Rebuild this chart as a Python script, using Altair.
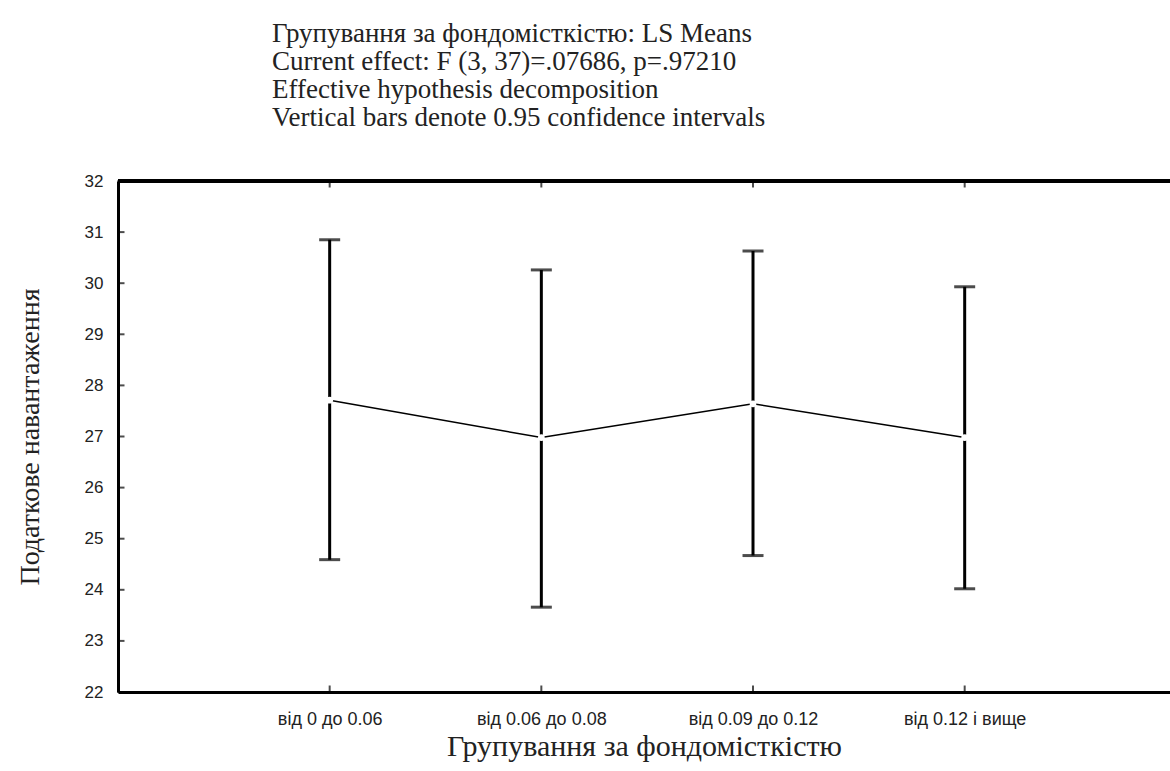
import json

import altair as alt
import pandas as pd

# LS means of tax burden by capital-intensity group, with 0.95 confidence limits
groups = ["від 0 до 0.06", "від 0.06 до 0.08", "від 0.09 до 0.12", "від 0.12 і вище"]
group_pos = [1, 2, 3, 4]
means = [27.71, 26.98, 27.64, 26.98]
lower = [24.59, 23.66, 24.67, 24.02]
upper = [30.85, 30.26, 30.63, 29.93]
y_ticks = list(range(22, 33))

title_lines = [
    "Групування за фондомісткістю: LS Means",
    "Current effect: F (3, 37)=.07686, p=.97210",
    "Effective hypothesis decomposition",
    "Vertical bars denote 0.95 confidence intervals",
]
x_title = "Групування за фондомісткістю"
y_title = "Податкове навантаження"

W, H = 1052, 511
X_MAX = 4.97
SERIF = "Liberation Serif"
SANS = "Liberation Sans"

df = pd.DataFrame({"pos": group_pos, "group": groups, "mean": means, "lo": lower, "hi": upper})
yt = pd.DataFrame({"v": y_ticks})

label_expr = json.dumps(groups, ensure_ascii=False) + "[datum.value - 1]"

x_scale = alt.Scale(domain=[0, X_MAX], nice=False, zero=False)
y_scale = alt.Scale(domain=[22, 32], nice=False, zero=False)

x_enc = alt.X(
    "pos:Q",
    scale=x_scale,
    axis=alt.Axis(
        values=group_pos,
        labelExpr=label_expr,
        title=x_title,
        ticks=False,
        grid=False,
        domainColor="black",
        domainWidth=3,
        labelFont=SANS,
        labelFontSize=18,
        labelColor="#222",
        labelPadding=18,
        titleFont=SERIF,
        titleFontSize=30,
        titleFontWeight="normal",
        titleColor="#222",
        titlePadding=3,
    ),
)
y_axis = alt.Axis(
    values=y_ticks,
    title=y_title,
    ticks=False,
    grid=False,
    domainColor="black",
    domainWidth=3,
    labelFont=SANS,
    labelFontSize=17,
    labelColor="#222",
    labelPadding=15,
    titleFont=SERIF,
    titleFontSize=28,
    titleFontWeight="normal",
    titleColor="#222",
    titlePadding=40,
)

base = alt.Chart(df)

line = base.mark_line(color="black", strokeWidth=1.5).encode(
    x=x_enc, y=alt.Y("mean:Q", scale=y_scale, axis=y_axis)
)
bars = base.mark_rule(color="black", strokeWidth=3).encode(
    x="pos:Q", y="lo:Q", y2="hi:Q"
)
cap_hi = base.mark_tick(color="black", orient="horizontal", size=21, thickness=3).encode(
    x="pos:Q", y="hi:Q"
)
cap_lo = base.mark_tick(color="black", orient="horizontal", size=21, thickness=3).encode(
    x="pos:Q", y="lo:Q"
)
dots = base.mark_point(filled=True, color="white", opacity=1, size=45, shape="circle").encode(
    x="pos:Q", y="mean:Q"
)

# frame: top border and inward tick marks
top_rule = alt.Chart(yt).mark_rule(color="black", strokeWidth=3).encode(
    y=alt.value(0), x=alt.value(0), x2=alt.value(W)
)
y_tick_marks = alt.Chart(yt).mark_tick(
    color="black", orient="horizontal", size=7, thickness=2, xOffset=3
).encode(x=alt.value(0), y="v:Q")
x_tick_bottom = base.mark_tick(
    color="black", orient="vertical", size=7, thickness=2, yOffset=-3
).encode(x="pos:Q", y=alt.value(H))
x_tick_top = base.mark_tick(
    color="black", orient="vertical", size=7, thickness=2, yOffset=3
).encode(x="pos:Q", y=alt.value(0))

chart = (
    alt.layer(line, bars, cap_hi, cap_lo, dots, top_rule, y_tick_marks, x_tick_bottom, x_tick_top)
    .properties(
        width=W,
        height=H,
        autosize=alt.AutoSizeParams(type="none"),
        padding={"left": 118, "top": 181, "right": 0, "bottom": 79},
        title=alt.TitleParams(
            text=title_lines,
            anchor="start",
            align="left",
            frame="group",
            dx=154,
            font=SERIF,
            fontSize=27,
            fontWeight="normal",
            color="#222",
            lineHeight=28,
            offset=40,
        ),
    )
    .configure_view(stroke=None)
    .configure(background="white")
)

chart.save("out.html", embed_options={"renderer": "svg", "actions": False})
